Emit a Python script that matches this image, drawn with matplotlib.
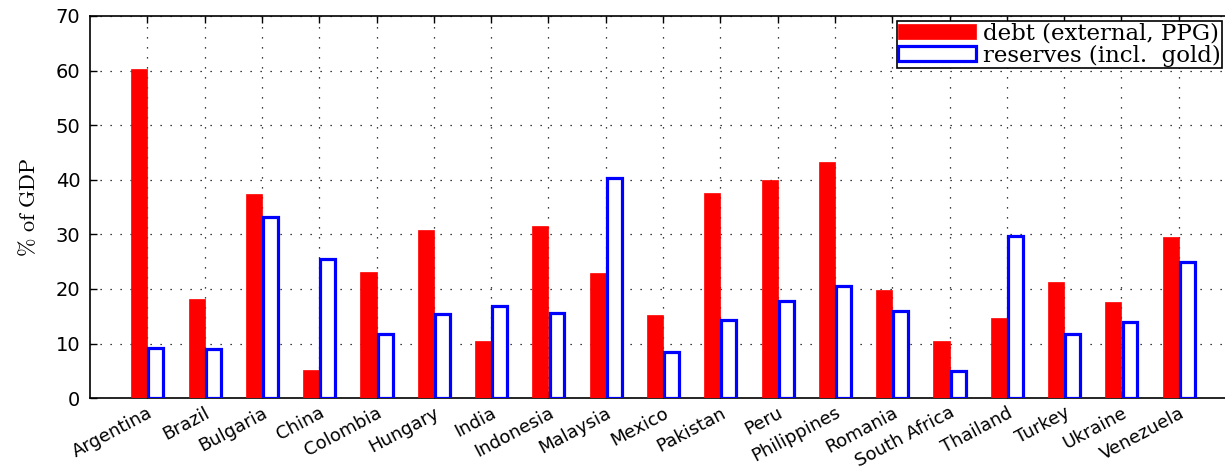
#!/usr/bin/env python3

import numpy as np
import matplotlib
matplotlib.use("Agg")
import matplotlib.pyplot as plt
import matplotlib.transforms as mtransforms

# values (% of GDP)
countries = ["Argentina", "Brazil", "Bulgaria", "China", "Colombia", "Hungary",
             "India", "Indonesia", "Malaysia", "Mexico", "Pakistan", "Peru",
             "Philippines", "Romania", "South Africa", "Thailand", "Turkey",
             "Ukraine", "Venezuela"]
debt = [60.3, 18.1, 37.4, 5.1, 23.1, 30.8, 10.4, 31.6, 23.0, 15.3, 37.6, 40.0,
        43.2, 19.8, 10.4, 14.6, 21.3, 17.6, 29.5]
reserves = [9.1, 9.0, 33.2, 25.5, 11.7, 15.4, 16.9, 15.6, 40.3, 8.4, 14.3, 17.8,
            20.5, 16.0, 4.9, 29.7, 11.8, 14.0, 25.0]
yticks = [0, 10, 20, 30, 40, 50, 60, 70]


def main():
    """ draw the grouped bar chart """
    plt.rcParams["mathtext.fontset"] = "cm"
    fig = plt.figure(figsize=(12.25, 4.70), dpi=100)
    # axes runs slightly past the right edge, as in the reference
    ax = fig.add_axes([0.0735, 0.153, 0.9355, 0.813])

    x = np.arange(1, len(countries) + 1)
    w = 0.28
    ax.bar(x - w / 2, debt, width=w, color="#ff0000", edgecolor="#ff0000",
           linewidth=0.5, zorder=3, label="debt (external, PPG)")
    ax.bar(x + w / 2 + 0.01, reserves, width=w - 0.02, color="white",
           edgecolor="#0000ff", linewidth=2.3, zorder=3,
           label="reserves (incl.  gold)")

    ax.set_xlim(0, 20)
    ax.set_ylim(0, 70)
    ax.set_xticks(x)
    ax.set_xticklabels(countries, rotation=28, ha="right", rotation_mode="anchor",
                       fontsize=13, family="DejaVu Sans")
    # nudge the rotated labels to the right, like the reference
    shift = mtransforms.ScaledTranslation(9 / 100, 0, fig.dpi_scale_trans)
    for lab in ax.get_xticklabels():
        lab.set_transform(lab.get_transform() + shift)
    ax.set_yticks(yticks)
    ax.set_yticklabels([str(t) for t in yticks], fontsize=14,
                       family="DejaVu Sans")
    ax.tick_params(direction="in", top=True, right=True, length=5, width=1,
                   pad=7)
    ax.tick_params(axis="x", pad=4)
    ax.grid(True, linestyle=(0, (1, 7)), color="black", linewidth=0.9, zorder=0)
    for s in ax.spines.values():
        s.set_linewidth(1.2)

    ax.set_ylabel(r"$\mathrm{\%\ of\ GDP}$", fontsize=16, labelpad=12)

    leg = ax.legend(loc="upper right", bbox_to_anchor=(0.9875, 0.986),
                    prop={"family": "DejaVu Serif", "size": 16.5},
                    fancybox=False, framealpha=1,
                    edgecolor="black", borderpad=0.05, labelspacing=0.0,
                    handlelength=3.4, handleheight=0.6, handletextpad=0.3,
                    borderaxespad=0)
    leg.get_frame().set_linewidth(1.2)

    fig.savefig("out.png", dpi=100)


if __name__ == "__main__":
    main()
